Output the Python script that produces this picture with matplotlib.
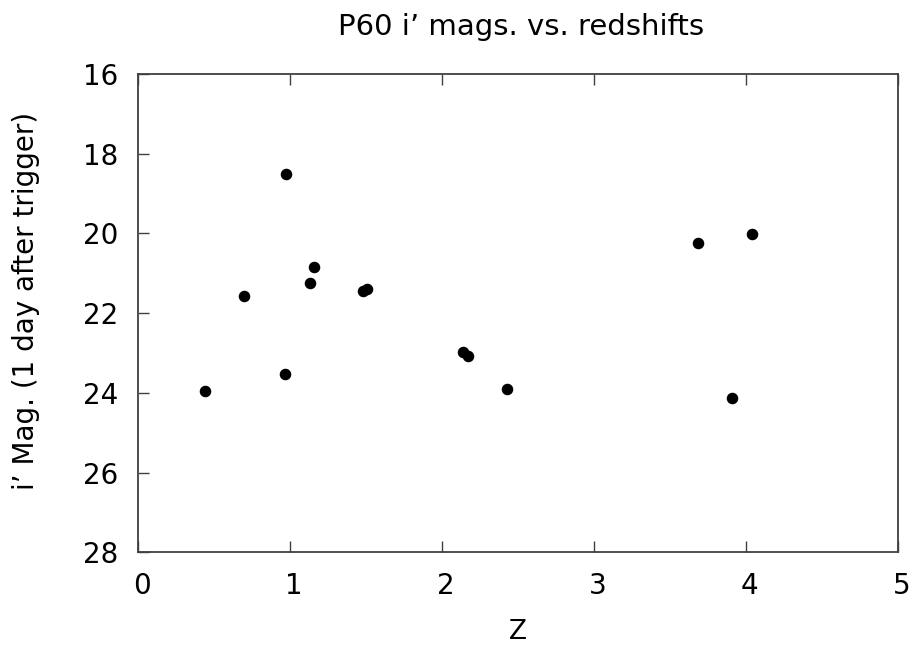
import numpy as np
import matplotlib
matplotlib.use("Agg")
import matplotlib.pyplot as plt
import matplotlib.transforms as mtransforms

# redshift and i' magnitude
z = [0.445, 0.701, 0.978, 0.969, 1.136, 1.162, 1.480, 1.511,
     2.142, 2.171, 2.428, 3.684, 4.043, 3.908]
mag = [23.95, 21.56, 18.50, 23.53, 21.24, 20.85, 21.45, 21.40,
       22.97, 23.07, 23.90, 20.25, 20.02, 24.13]

x_ticks = [0, 1, 2, 3, 4, 5]
y_ticks = [16, 18, 20, 22, 24, 26, 28]

# the original font is wide and loosely spaced, DejaVu comes closest
plt.rcParams["font.family"] = ["DejaVu Sans"]

fig = plt.figure(figsize=(9.15, 6.47), dpi=100)
ax = fig.add_axes([0.1505, 0.1464, 0.8306, 0.7392])

ax.plot(z, mag, "o", color="black", markersize=7.3, linestyle="none")

ax.set_xlim(0, 5)
ax.set_ylim(28, 16)
ax.set_xticks(x_ticks)
ax.set_yticks(y_ticks)

for s in ax.spines.values():
    s.set_color("#404040")
    s.set_linewidth(1.3)

ax.tick_params(axis="x", direction="in", length=8, width=1, color="#404040",
               top=True, labelsize=20, pad=14.5)
ax.tick_params(axis="y", direction="in", length=8, width=1, color="#404040",
               right=False, labelsize=20, pad=14)

# labels in the original sit a few pixels right of the ticks
offset = mtransforms.ScaledTranslation(4 / 100, 0, fig.dpi_scale_trans)
for lab in ax.get_xticklabels():
    lab.set_transform(lab.get_transform() + offset)

ax.set_title("P60 i\u2019 mags. vs. redshifts", fontsize=21, pad=28, x=0.504)

ax.set_xlabel("Z", fontsize=19)
ax.xaxis.set_label_coords(0.5, -0.1395)

ax.set_ylabel("i\u2019 Mag. (1 day after trigger)", fontsize=20)
ax.yaxis.set_label_coords(-0.147, 0.525)
ax.yaxis.label.set_va("center")

fig.savefig("out.png", dpi=100)
